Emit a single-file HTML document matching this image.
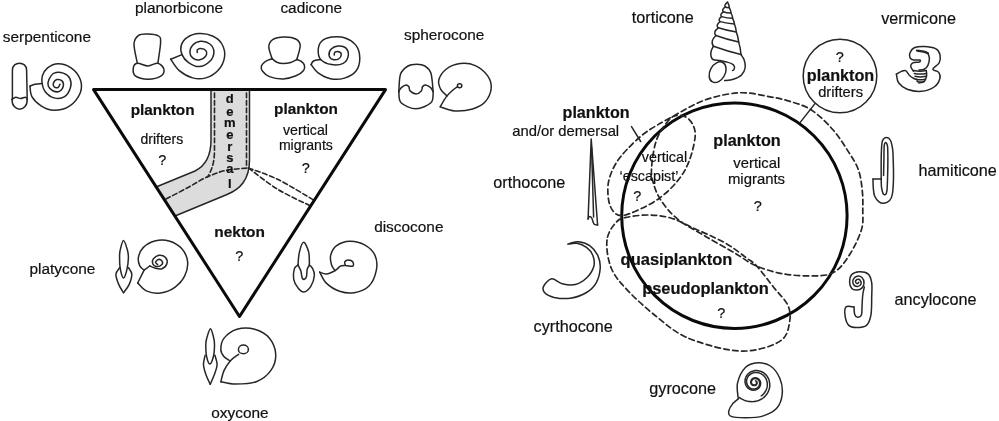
<!DOCTYPE html><html><head><meta charset="utf-8"><style>html,body{margin:0;padding:0;background:#fff;width:999px;height:421px;overflow:hidden}svg{display:block;will-change:transform}text{font-family:"Liberation Sans",sans-serif}</style></head><body>
<svg width="999" height="421" viewBox="0 0 999 421" font-family="Liberation Sans, sans-serif">
<path d="M211,91 L211,140 C211,156 205,166 195,171 L155.5,187.3 L175,216 L227,194.5 C240,189 249.5,180 249.5,160 L249.5,91Z" fill="#dcdcdc" stroke="none" stroke-width="0" stroke-linejoin="round" stroke-linecap="round"/>
<path d="M211,91 L211,140 C211,156 205,166 195,171 L155.5,187.3" fill="none" stroke="#262626" stroke-width="1.5" stroke-linejoin="round" stroke-linecap="round"/>
<path d="M249.5,91 L249.5,160 C249.5,180 240,189 227,194.5 L175,216" fill="none" stroke="#262626" stroke-width="1.5" stroke-linejoin="round" stroke-linecap="round"/>
<path d="M214.5,93 L214.5,150 C214.5,162 212,170 207.5,177" fill="none" stroke="#262626" stroke-width="1.6" stroke-dasharray="4.8,2.7" stroke-linejoin="round" stroke-linecap="round"/>
<path d="M246.5,93 L246.5,168" fill="none" stroke="#262626" stroke-width="1.6" stroke-dasharray="4.8,2.7" stroke-linejoin="round" stroke-linecap="round"/>
<path d="M166,199 C169.7,197.1 181.2,191.2 188,187.5 C194.8,183.8 200.7,179.8 207,177 C213.3,174.2 219.1,171.9 226,170.4 C232.9,168.9 244.8,168.4 248.5,168" fill="none" stroke="#262626" stroke-width="1.6" stroke-dasharray="4.8,2.7" stroke-linejoin="round" stroke-linecap="round"/>
<path d="M248.5,168 C253.4,169.9 267,174.1 278,179.5 C289,184.9 308.2,196.9 314.3,200.4" fill="none" stroke="#262626" stroke-width="1.6" stroke-dasharray="4.8,2.7" stroke-linejoin="round" stroke-linecap="round"/>
<path d="M248.5,168 C253.4,171.6 267.6,183.2 278,189.5 C288.4,195.8 305.2,203.2 310.7,206" fill="none" stroke="#262626" stroke-width="1.6" stroke-dasharray="4.8,2.7" stroke-linejoin="round" stroke-linecap="round"/>
<path d="M93.6,89.6 L385.5,89.6 L239.5,316.5Z" fill="none" stroke="#0a0a0a" stroke-width="3.0" stroke-linejoin="round" stroke-linecap="round"/>
<path d="M12.4,99 L12.4,70 C12.4,61 26.6,61 26.6,70 L27.2,99 C27.8,112.5 11.6,112.5 12,99Z" fill="none" stroke="#262626" stroke-width="1.5" stroke-linejoin="round" stroke-linecap="round"/>
<path d="M12,99.3 C12.6,99 14.4,97.3 15.8,97.2 C17.2,97.1 19,98.6 20.6,98.6 C22.2,98.6 24.2,97.1 25.3,97.2 C26.4,97.3 27,99 27.3,99.3" fill="none" stroke="#262626" stroke-width="1.5" stroke-linejoin="round" stroke-linecap="round"/>
<path d="M30,86.1 C30.3,87.8 30,93.3 31.9,96.6 C33.8,99.9 37.4,103.5 41.1,105.8 C44.8,108.1 49.3,110.3 54.1,110.3 C58.9,110.3 65.4,108.7 69.8,105.8 C74.2,102.9 78.5,97.1 80.3,92.7 C82,88.3 81.8,83.8 80.3,79.6 C78.8,75.4 74.8,70.4 71.1,67.8 C67.4,65.2 62,63.7 58.1,63.7 C54.2,63.7 50.2,65.8 47.6,67.8 C45,69.8 43.3,73.1 42.4,75.7 C41.5,78.3 41.7,80.9 42.1,83.5 C42.5,86.1 43,89 45,91.4 C47,93.8 50.8,97 54.1,97.9 C57.4,98.8 61.9,98.3 64.6,96.6 C67.3,94.9 69.6,90.5 70.5,87.5 C71.4,84.5 71,80.7 69.8,78.3 C68.6,75.9 65.9,74 63.3,73.1 C60.7,72.2 56.5,72 54.1,73.1 C51.7,74.2 49.9,77.4 48.9,79.6 C47.9,81.8 47.6,84.2 48.3,86.1 C48.9,87.9 50.9,89.8 52.8,90.7 C54.6,91.6 57.6,92.2 59.4,91.4 C61.1,90.6 62.9,87.8 63.3,86.1 C63.7,84.3 63.1,82 62,80.9 C60.9,79.8 58.2,79.3 56.8,79.6 C55.4,79.9 54,81.7 53.5,82.9 C53,84.1 53.3,86 54.1,86.8 C54.9,87.6 57.1,87.9 58.1,87.5 C59.1,87.1 59.7,84.8 60,84.2" fill="none" stroke="#262626" stroke-width="1.5" stroke-linejoin="round" stroke-linecap="round"/>
<path d="M30,86.1 C30.8,85.8 33,84.7 35,84.3 C37,83.9 40.9,83.6 42.1,83.5" fill="none" stroke="#262626" stroke-width="1.5" stroke-linejoin="round" stroke-linecap="round"/>
<path d="M137.3,63.2 C136.8,60 133.8,48.6 134,44 C134.2,39.4 136.3,37 138.6,35.3 C140.9,33.6 144.7,33.9 148,34 C151.3,34.1 156.5,34.6 158.6,36 C160.7,37.4 160.7,38.1 160.6,42.6 C160.5,47.1 158.3,59.8 157.9,63.2" fill="none" stroke="#262626" stroke-width="1.5" stroke-linejoin="round" stroke-linecap="round"/>
<path d="M137.3,63.2 C134.9,63.5 133.6,65.8 133.3,67.9 C133,70 132.9,74 135.3,75.9 C137.8,77.8 143.7,79.2 148,79.2 C152.3,79.2 158.5,77.6 161.2,75.9 C163.8,74.2 164.4,71.3 163.9,69.2 C163.4,67.1 160.6,63.8 157.9,63.2 C155.2,62.7 151.4,65.9 148,65.9 C144.6,65.9 139.8,62.9 137.3,63.2Z" fill="none" stroke="#262626" stroke-width="1.5" stroke-linejoin="round" stroke-linecap="round"/>
<path d="M170.7,59.2 C172.1,61.1 175.7,67.5 179.3,70.6 C183,73.7 188.2,76.7 192.6,77.9 C197,79.1 201.7,79.1 205.9,77.9 C210.1,76.7 214.8,74 217.9,70.6 C221,67.2 223.8,61.7 224.5,57.3 C225.2,52.9 223.9,47.5 221.9,44 C219.9,40.5 216.3,37.7 212.5,36 C208.7,34.3 203.4,33.4 199.2,33.6 C195,33.8 190.3,35.3 187.3,37.3 C184.3,39.2 182.2,42.4 181.3,45.3 C180.4,48.2 180.8,51.7 182,54.6 C183.2,57.5 185.7,60.6 188.6,62.6 C191.5,64.6 195.6,66.8 199.2,66.6 C202.8,66.4 207.4,63.7 209.9,61.2 C212.4,58.8 213.9,54.8 213.9,51.9 C213.9,49 212.1,45.8 209.9,44 C207.7,42.2 203.5,41.1 200.6,41.3 C197.7,41.5 194.4,43.4 192.6,45.3 C190.8,47.2 189.9,50.5 189.9,52.6 C189.9,54.7 191.1,56.7 192.6,57.9 C194.1,59.1 197,60.2 199.2,59.9 C201.4,59.6 204.8,57.4 205.9,55.9 C207,54.4 206.8,51.8 205.9,50.6 C205,49.4 202,48.7 200.6,48.6 C199.2,48.5 197.9,49.2 197.3,49.9 C196.8,50.6 197.3,52.1 197.3,52.6" fill="none" stroke="#262626" stroke-width="1.5" stroke-linejoin="round" stroke-linecap="round"/>
<path d="M170.7,59.2 L182,54.6" fill="none" stroke="#262626" stroke-width="1.5" stroke-linejoin="round" stroke-linecap="round"/>
<path d="M272.1,58.7 C271.6,56.7 268.7,49.9 268.8,46.7 C268.9,43.5 270.1,41.2 272.7,39.6 C275.3,38 280.4,37.2 284.2,37.1 C288,37 293,37.6 295.7,39 C298.4,40.4 300,42 300.2,45.4 C300.4,48.8 297.4,57.1 296.8,59.5" fill="none" stroke="#262626" stroke-width="1.5" stroke-linejoin="round" stroke-linecap="round"/>
<path d="M272.1,58.7 C271,59.2 267.4,60.2 265.6,61.4 C263.8,62.6 261.9,64.3 261.4,66 C260.9,67.7 261.3,69.5 262.6,71.3 C263.9,73.1 266,75.3 269.4,76.6 C272.8,77.9 278.7,79 283.1,78.9 C287.5,78.8 292.6,77.2 296,75.8 C299.4,74.4 302.2,72.3 303.6,70.5 C305,68.7 304.8,66.7 304.4,65.2 C304,63.7 302.6,62.4 301.3,61.4 C300,60.4 297.6,59.8 296.8,59.5" fill="none" stroke="#262626" stroke-width="1.5" stroke-linejoin="round" stroke-linecap="round"/>
<path d="M272.1,58.7 C272.9,59.3 275.1,61.4 276.9,62.2 C278.7,63 280.8,63.5 283.1,63.5 C285.4,63.5 288.4,63.2 290.7,62.5 C293,61.8 295.8,60 296.8,59.5" fill="none" stroke="#262626" stroke-width="1.5" stroke-linejoin="round" stroke-linecap="round"/>
<path d="M311.1,64.6 C312.2,65.9 314.3,69.9 317.5,72.3 C320.7,74.7 325.9,77.7 330.4,78.7 C334.9,79.7 340.2,79.4 344.5,78.1 C348.8,76.8 353.4,74.3 356,71 C358.6,67.7 359.8,62.5 359.8,58.2 C359.8,53.9 358.6,48.8 356,45.4 C353.4,42 348.6,39.1 344.5,37.7 C340.4,36.3 335.5,36.5 331.6,37.1 C327.8,37.7 323.6,39.3 321.4,41.5 C319.2,43.7 318.3,47.5 318.2,50.5 C318.1,53.5 318.5,57.1 320.7,59.5 C322.9,61.9 327.9,64 331.6,64.6 C335.4,65.2 340.4,64.8 343.2,63.3 C346,61.8 347.9,58.2 348.3,55.6 C348.7,53 347.4,49.5 345.7,47.9 C344,46.3 340.4,45.8 338,46 C335.6,46.2 332.5,47.6 331,49.2 C329.5,50.8 328.8,53.9 329.1,55.6 C329.4,57.3 331.3,59 332.9,59.5 C334.5,60 337.3,59.6 338.7,58.8 C340.1,57.9 341.3,55.6 341.3,54.4 C341.3,53.2 339.8,52.1 338.7,51.8 C337.6,51.5 335.6,51.9 334.8,52.4 C334.1,52.9 334.3,54.6 334.2,55" fill="none" stroke="#262626" stroke-width="1.5" stroke-linejoin="round" stroke-linecap="round"/>
<path d="M311.1,64.6 C311.5,64 311.9,61.9 313.5,61 C315.1,60.1 319.5,59.8 320.7,59.5" fill="none" stroke="#262626" stroke-width="1.5" stroke-linejoin="round" stroke-linecap="round"/>
<path d="M398.8,92.1 C399.1,89.1 399,78.6 400.5,74.3 C402,70 405.3,67.7 408,66 C410.7,64.3 413.8,64.2 416.6,64.2 C419.4,64.2 422.6,64.5 425,66 C427.4,67.5 429.5,68.8 430.9,73.1 C432.3,77.4 432.8,88.9 433.2,92.1" fill="none" stroke="#262626" stroke-width="1.5" stroke-linejoin="round" stroke-linecap="round"/>
<path d="M398.8,92.1 C399.2,93.9 398.2,100 401.1,102.8 C404,105.6 411,108.8 416,108.8 C421,108.8 428,105.4 430.9,102.8 C433.8,100.2 432.8,94.9 433.2,93.3" fill="none" stroke="#262626" stroke-width="1.5" stroke-linejoin="round" stroke-linecap="round"/>
<path d="M398.8,91.5 C399.2,90.9 399.9,89 401.1,87.9 C402.3,86.8 404.6,85.2 405.9,85 C407.2,84.8 408.2,85.8 408.9,86.8 C409.6,87.8 408.9,89.7 410.1,90.9 C411.3,92.1 414.1,93.9 416,93.9 C417.9,93.9 420.2,92.1 421.3,90.9 C422.4,89.7 421.8,87.8 422.5,86.8 C423.2,85.8 424.1,84.8 425.5,85 C426.9,85.2 429.6,86.7 430.9,87.9 C432.2,89.1 432.8,91.4 433.2,92.1" fill="none" stroke="#262626" stroke-width="1.5" stroke-linejoin="round" stroke-linecap="round"/>
<path d="M440.2,106.9 C442.6,107.6 449.3,110.7 454.7,111 C460.1,111.3 467.6,110.5 472.6,109 C477.7,107.5 481.9,105.5 485,102.1 C488.1,98.6 490.8,92.7 491.2,88.3 C491.6,83.9 490.3,79.7 487.7,75.9 C485.1,72.1 479.9,67.7 475.3,65.6 C470.7,63.5 465,62.9 460.2,63.5 C455.4,64.1 450,66.2 446.4,69 C442.8,71.8 439.7,76.5 438.8,80 C437.9,83.5 439.5,87 440.9,89.7 C442.3,92.4 446.1,94.9 447.1,95.9" fill="none" stroke="#262626" stroke-width="1.5" stroke-linejoin="round" stroke-linecap="round"/>
<path d="M440.2,106.9 C441.2,105.2 444.2,99.5 446.4,96.6 C448.6,93.7 451.4,91.4 453.3,89.7 C455.2,88 456.9,87.1 457.6,86.6" fill="none" stroke="#262626" stroke-width="1.5" stroke-linejoin="round" stroke-linecap="round"/>
<ellipse cx="459.6" cy="85.8" rx="2.2" ry="2" fill="none" stroke="#262626" stroke-width="1.5"/>
<path d="M123.5,240.4 C122.3,240.4 120.9,247.1 120.2,250 C119.5,252.9 119.5,254.8 119.6,258.1 C119.6,261.4 119.8,266.7 120.5,270 C121.2,273.3 122.5,278 123.5,278 C124.5,278 126,273.3 126.8,270 C127.6,266.7 128.3,261.4 128.4,258.1 C128.5,254.8 128.2,252.9 127.4,250 C126.6,247.1 124.7,240.4 123.5,240.4Z" fill="none" stroke="#262626" stroke-width="1.5" stroke-linejoin="round" stroke-linecap="round"/>
<path d="M119.6,267.7 C119,268.8 116,271.5 115.9,274.3 C115.8,277.1 117.5,281.5 118.8,284.6 C120.1,287.7 122.7,291.4 123.5,292.7" fill="none" stroke="#262626" stroke-width="1.5" stroke-linejoin="round" stroke-linecap="round"/>
<path d="M128.4,267.7 C129,268.8 131.7,271.5 131.8,274.3 C131.9,277.1 130.5,281.5 129.1,284.6 C127.7,287.7 124.4,291.4 123.5,292.7" fill="none" stroke="#262626" stroke-width="1.5" stroke-linejoin="round" stroke-linecap="round"/>
<path d="M144.1,270.2 C143.4,269.5 140.8,268 139.8,265.9 C138.9,263.8 137.8,260.5 138.4,257.4 C139,254.3 140.7,250.1 143.4,247.4 C146.1,244.7 150.5,242.1 154.8,241 C159.1,239.9 164.5,239.7 169,241 C173.5,242.3 178.8,245.4 181.9,248.8 C185,252.2 187.1,257.2 187.6,261.7 C188.1,266.2 186.8,271.6 184.7,275.9 C182.6,280.2 178.8,284.4 174.8,287.3 C170.8,290.2 165.2,292.4 160.5,293 C155.8,293.6 150.1,292.6 146.3,290.9 C142.5,289.2 139.1,284.3 137.7,283" fill="none" stroke="#262626" stroke-width="1.5" stroke-linejoin="round" stroke-linecap="round"/>
<path d="M137.7,283 L144.1,270.2 L149.8,266" fill="none" stroke="#262626" stroke-width="1.5" stroke-linejoin="round" stroke-linecap="round"/>
<path d="M149.8,265.9 C150.6,266.3 152.8,267.6 154.8,268.1 C156.8,268.6 159.9,269.5 161.9,268.8 C163.9,268.1 166.3,265.7 166.9,263.8 C167.5,261.9 166.8,258.8 165.5,257.4 C164.2,256 161.1,255 159.1,255.2 C157.1,255.4 154.5,257.4 153.4,258.8 C152.3,260.2 152.1,262.5 152.7,263.8 C153.3,265.1 155.4,266.5 156.9,266.6 C158.4,266.7 161.1,265.4 161.9,264.5 C162.7,263.6 162.5,261.7 161.9,260.9 C161.3,260.1 159.5,259.2 158.4,259.5 C157.3,259.8 155.6,261.6 155.5,262.4 C155.4,263.2 157.3,264.1 157.7,264.5" fill="none" stroke="#262626" stroke-width="1.5" stroke-linejoin="round" stroke-linecap="round"/>
<path d="M298,265.1 C298.2,263 298.4,256 299.4,252.2 C300.3,248.4 302.1,242.3 303.7,242.3 C305.2,242.3 307.8,248.4 308.7,252.2 C309.6,256 309.3,263 309.4,265.1" fill="none" stroke="#262626" stroke-width="1.5" stroke-linejoin="round" stroke-linecap="round"/>
<path d="M298,265.1 C298.5,266.1 300.1,268.7 300.8,270.8 C301.5,272.9 301.6,276.5 302.2,277.9 C302.8,279.3 303.7,279.5 304.4,279.3 C305.1,279.1 306,278.2 306.5,276.5 C307,274.8 306.7,271.2 307.2,269.3 C307.7,267.4 309,265.8 309.4,265.1" fill="none" stroke="#262626" stroke-width="1.5" stroke-linejoin="round" stroke-linecap="round"/>
<path d="M298,265.1 C297.4,265.7 295.1,266.2 294.4,268.6 C293.7,271 293.1,276.1 293.7,279.3 C294.3,282.5 296.3,285.8 298,287.9 C299.7,290 301.6,292.4 303.7,292.1 C305.8,291.9 309,289.2 310.8,286.4 C312.6,283.5 314.2,278.1 314.4,275 C314.6,271.9 313,269.5 312.2,267.9 C311.4,266.2 309.9,265.6 309.4,265.1" fill="none" stroke="#262626" stroke-width="1.5" stroke-linejoin="round" stroke-linecap="round"/>
<path d="M319.7,272.1 C320.8,273.9 323,279.9 326.3,283.1 C329.6,286.3 334.9,289.6 339.6,291.2 C344.3,292.8 349.4,293.5 354.3,292.7 C359.2,291.9 365.3,289.9 369,286.1 C372.7,282.3 375.4,275.1 376.4,269.9 C377.4,264.7 376.9,259.3 374.9,255.1 C372.9,250.9 368.8,247.1 364.6,244.8 C360.4,242.5 354.6,241.1 349.9,241.2 C345.2,241.3 339.8,243.3 336.6,245.6 C333.4,247.9 331.6,251.9 330.7,255.1 C329.8,258.3 330.8,262.1 331.5,264.7 C332.2,267.3 334.5,269.6 335.1,270.6" fill="none" stroke="#262626" stroke-width="1.5" stroke-linejoin="round" stroke-linecap="round"/>
<path d="M319.7,272.1 C320.8,272.4 323.7,274.2 326.3,274 C328.9,273.8 332.8,271.9 335.1,270.6 C337.4,269.3 338.6,267.1 340.3,266.2 C342,265.3 343.4,265.5 345.5,265.5 C347.6,265.5 351.6,266.8 352.8,266.2 C354,265.6 353.5,262.9 352.8,261.8 C352.1,260.8 349.8,259.9 348.4,259.9 C347,259.9 345.2,260.9 344.7,261.8 C344.2,262.7 345.4,264.9 345.5,265.5" fill="none" stroke="#262626" stroke-width="1.5" stroke-linejoin="round" stroke-linecap="round"/>
<path d="M210.5,328.7 C209.3,328.7 207.6,335.4 206.8,338 C206,340.6 205.9,341.4 205.8,344.4 C205.8,347.4 205.8,352.7 206.5,356 C207.2,359.3 208.6,364 209.8,364 C211,364 212.7,359.3 213.5,356 C214.3,352.7 214.5,347.4 214.5,344.4 C214.5,341.4 214.4,340.6 213.7,338 C213,335.4 211.7,328.7 210.5,328.7Z" fill="none" stroke="#262626" stroke-width="1.5" stroke-linejoin="round" stroke-linecap="round"/>
<path d="M205.1,355.3 C204.8,356.9 203.4,361.7 203.5,364.8 C203.6,367.9 204.7,370.9 205.8,374.2 C206.9,377.4 209.5,382.6 210.2,384.3" fill="none" stroke="#262626" stroke-width="1.5" stroke-linejoin="round" stroke-linecap="round"/>
<path d="M214.9,355.3 C215.3,356.9 217.2,361.7 217.1,364.8 C217,367.9 215.7,370.9 214.5,374.2 C213.3,377.4 210.9,382.6 210.2,384.3" fill="none" stroke="#262626" stroke-width="1.5" stroke-linejoin="round" stroke-linecap="round"/>
<path d="M220.8,381.7 C223.2,382.1 229.5,384.1 235.4,384.1 C241.3,384.1 250.4,384 256.3,381.7 C262.2,379.4 267.7,375 270.9,370.4 C274.1,365.8 276,359.7 275.7,354.3 C275.4,348.9 272.8,342.3 269.3,338.1 C265.8,333.9 260.1,330.8 254.7,329.3 C249.3,327.8 242.1,327.8 237,329.3 C231.9,330.8 226.8,334.8 224.1,338.1 C221.4,341.5 220.8,346.3 220.8,349.4 C220.8,352.5 222.6,354.8 224.1,356.7 C225.6,358.6 228.8,360 229.7,360.7" fill="none" stroke="#262626" stroke-width="1.5" stroke-linejoin="round" stroke-linecap="round"/>
<path d="M220.8,381.7 C221.4,379.8 222.5,373.9 224.1,370.4 C225.7,366.9 228.1,363.4 230.5,360.7 C232.9,358 237.2,355.4 238.6,354.3" fill="none" stroke="#262626" stroke-width="1.5" stroke-linejoin="round" stroke-linecap="round"/>
<ellipse cx="243.4" cy="349.4" rx="5" ry="4.3" fill="none" stroke="#262626" stroke-width="1.5"/>
<path d="M588.1,219 L591.2,139 L597.6,225" fill="none" stroke="#262626" stroke-width="1.5" stroke-linejoin="round" stroke-linecap="round"/>
<path d="M588.1,219 C588.3,218.6 588.9,216.6 589.5,216.5 C590.1,216.4 591,216.9 591.8,218.2 C592.5,219.4 593,222.9 594,224 C595,225.1 597,224.8 597.6,225" fill="none" stroke="#262626" stroke-width="1.5" stroke-linejoin="round" stroke-linecap="round"/>
<path d="M591.6,148 L593.6,217" fill="none" stroke="#262626" stroke-width="1.5" stroke-linejoin="round" stroke-linecap="round"/>
<path d="M567.9,244.1 C568.2,243.8 574.8,241.4 578.4,241.7 C582,242 586.5,243.4 589.7,245.7 C592.9,248 596,251.6 597.8,255.4 C599.5,259.2 600.5,263.7 600.2,268.3 C599.9,272.9 598.5,278.8 596.2,282.8 C593.9,286.8 590.8,289.9 586.5,292.5 C582.2,295.1 575.7,297.4 570.3,298.2 C564.9,299 558.5,298.3 554.2,297.4 C549.9,296.4 546.2,294.4 544.5,292.5 C542.8,290.6 542.5,288.4 543.7,286.1 C544.9,283.8 548.6,279.2 551.7,278.8 C554.8,278.4 558.3,282.8 562.2,283.7 C566.1,284.6 571.2,285.4 575.2,284.5 C579.2,283.6 583.4,281 586.5,278 C589.6,275 592.6,270.5 593.7,266.7 C594.8,262.9 594.1,258.6 592.9,255.4 C591.7,252.2 589.2,249.3 586.5,247.3 C583.8,245.3 579.9,243.8 576.8,243.3 C573.7,242.8 567.6,244.4 567.9,244.1Z" fill="none" stroke="#262626" stroke-width="1.5" stroke-linejoin="round" stroke-linecap="round"/>
<path d="M727.5,2.2 Q729.1,4.9 729.3,7.6 Q730.9,10.3 731,13 Q732.5,15.7 732.6,18.3 Q734.2,21.1 734.4,24 Q736,28 736.3,32 Q738.2,37 738.7,42.1 Q740.6,48.3 741,54.5" fill="none" stroke="#262626" stroke-width="1.5" stroke-linejoin="round" stroke-linecap="round"/>
<path d="M727.5,2.2 Q723.8,5 725.3,6.8 Q721.4,9.8 723.3,11.8 Q719.4,14.7 721.6,16.6 Q717.5,19.6 720.1,21.6 Q715.3,25.2 718.3,27.8 Q712.6,32.1 715.9,35.5 Q709.8,41.4 713.4,46.2" fill="none" stroke="#262626" stroke-width="1.5" stroke-linejoin="round" stroke-linecap="round"/>
<path d="M725.3,6.8 Q727.3,8 729.3,7.6" fill="none" stroke="#262626" stroke-width="1.5" stroke-linejoin="round" stroke-linecap="round"/>
<path d="M723.3,11.8 Q727.1,13.2 731,13" fill="none" stroke="#262626" stroke-width="1.5" stroke-linejoin="round" stroke-linecap="round"/>
<path d="M721.6,16.6 Q727.1,18.3 732.6,18.3" fill="none" stroke="#262626" stroke-width="1.5" stroke-linejoin="round" stroke-linecap="round"/>
<path d="M720.1,21.6 Q727.2,23.6 734.4,24" fill="none" stroke="#262626" stroke-width="1.5" stroke-linejoin="round" stroke-linecap="round"/>
<path d="M718.3,27.8 Q727.3,30.7 736.3,32" fill="none" stroke="#262626" stroke-width="1.5" stroke-linejoin="round" stroke-linecap="round"/>
<path d="M715.9,35.5 Q727.3,39.6 738.7,42.1" fill="none" stroke="#262626" stroke-width="1.5" stroke-linejoin="round" stroke-linecap="round"/>
<path d="M713.4,46.2 Q727.2,51.1 741,54.5" fill="none" stroke="#262626" stroke-width="1.5" stroke-linejoin="round" stroke-linecap="round"/>
<path d="M713.4,46.2 C713,47 711.6,49.4 711.2,51 C710.8,52.6 710.7,54.6 711,56 C711.3,57.4 711.5,58.7 713,59.5 C714.5,60.3 717.8,60.2 720,60.6 C722.2,61 724.5,61.5 726.5,62 C728.5,62.5 730.7,63 732,63.8 C733.3,64.5 734.1,65.5 734.4,66.5 C734.7,67.5 734.3,68.8 734,69.5 C733.7,70.2 732.8,70.3 732.5,70.5" fill="none" stroke="#262626" stroke-width="1.5" stroke-linejoin="round" stroke-linecap="round"/>
<path d="M741,54.5 C741.5,55.4 743.5,57.8 744.2,60 C744.9,62.2 745.7,65 745.2,67.5 C744.8,70 743.5,73 741.5,75 C739.5,77 736.1,78.3 733.3,79.2 C730.5,80.1 726.1,80.4 724.7,80.6" fill="none" stroke="#262626" stroke-width="1.5" stroke-linejoin="round" stroke-linecap="round"/>
<ellipse cx="717.6" cy="72.2" rx="7.6" ry="11" transform="rotate(28 717.6 72.2)" fill="#fff" stroke="#262626" stroke-width="1.5"/>
<path d="M896.4,74.2 C896.8,75.6 896.8,80.3 898.6,82.8 C900.4,85.3 903.3,87.8 907.1,89.2 C910.9,90.6 916.9,91.7 921.4,91.3 C925.9,90.9 931.1,89.1 934.2,87 C937.3,84.9 939.2,81 939.9,78.5 C940.6,76 939.7,73.6 938.5,72.1 C937.3,70.5 932.7,70.8 932.8,69.2 C932.9,67.7 938,65.3 939.2,62.8 C940.4,60.3 940.5,56.7 939.9,54.3 C939.3,51.9 938.2,49.9 935.6,48.6 C933,47.3 927.8,46.5 924.2,46.4 C920.6,46.3 916.6,46.7 914.2,47.8 C911.8,48.9 910.7,51.1 910,52.8 C909.3,54.5 909.4,56.6 910,57.8 C910.6,59 911.9,59.6 913.5,60 C915.1,60.4 918.9,59.6 919.9,60 C920.9,60.4 920.4,61.6 919.2,62.1 C918,62.6 914.2,62.1 912.8,62.8 C911.4,63.5 910.6,65 910.7,66.4 C910.8,67.8 913,70.6 913.5,71.4" fill="none" stroke="#262626" stroke-width="1.5" stroke-linejoin="round" stroke-linecap="round"/>
<path d="M896.4,74.2 C897.2,73.7 899.8,72 901.4,71.4 C903,70.8 904.4,69.9 905.7,70.6 C907.1,71.3 908.1,74.2 909.5,75.5 C910.9,76.8 912.7,77.8 914,78.5 C915.3,79.2 916.9,79.8 917.5,80" fill="none" stroke="#262626" stroke-width="1.5" stroke-linejoin="round" stroke-linecap="round"/>
<path d="M917,50.6 C922,51 926,52 928,53.3" fill="none" stroke="#262626" stroke-width="2.2" stroke-linejoin="round" stroke-linecap="round"/>
<path d="M928,53.3 C928.2,54.2 929.4,56.5 929.4,58.5 C929.4,60.5 928.7,63.8 927.8,65.6 C926.9,67.4 925.7,68.5 924.2,69.2 C922.7,69.9 919.9,69.9 919,70" fill="none" stroke="#262626" stroke-width="1.5" stroke-linejoin="round" stroke-linecap="round"/>
<path d="M913.6,70.6 Q920,71.8 926.3,70.6" fill="none" stroke="#262626" stroke-width="1.5" stroke-linejoin="round" stroke-linecap="round"/>
<path d="M914.3,73.5 Q920.3,74.7 926.3,73.5" fill="none" stroke="#262626" stroke-width="1.5" stroke-linejoin="round" stroke-linecap="round"/>
<path d="M915,76.3 Q920.3,77.5 925.6,76.3" fill="none" stroke="#262626" stroke-width="1.5" stroke-linejoin="round" stroke-linecap="round"/>
<path d="M916.4,79.2 Q920.7,80.4 925,79.2" fill="none" stroke="#262626" stroke-width="1.5" stroke-linejoin="round" stroke-linecap="round"/>
<path d="M917.1,81.5 Q920.7,82.7 924.2,81.5" fill="none" stroke="#262626" stroke-width="1.5" stroke-linejoin="round" stroke-linecap="round"/>
<path d="M926.3,70.6 C926.3,71.5 927,74.2 926.6,76 C926.2,77.8 925.5,80.3 924.2,81.5 C922.9,82.7 919.9,82.8 919,83" fill="none" stroke="#262626" stroke-width="1.5" stroke-linejoin="round" stroke-linecap="round"/>
<path d="M873,179 C874.4,179 879.8,179 881.2,179" fill="none" stroke="#262626" stroke-width="1.5" stroke-linejoin="round" stroke-linecap="round"/>
<path d="M873,179 C873,180.5 873,185.2 873.3,188 C873.6,190.8 873.6,193.7 874.6,196 C875.6,198.3 877.4,200.6 879,201.8 C880.6,203 882.2,203.4 884,203.2 C885.8,203 888.2,202 889.6,200.5 C891,199 891.8,197.8 892.4,194 C893,190.2 893.4,183.2 893.5,177.5 C893.6,171.8 893.4,164.8 893.2,160 C893.1,155.2 893.1,152.2 892.6,149 C892.1,145.8 891.5,142.4 890.5,140.5 C889.5,138.6 888.1,137.8 886.9,137.6 C885.7,137.3 884.3,138 883.5,139 C882.7,140 882.3,140.2 881.9,143.5 C881.5,146.8 881.3,152.6 881.2,158.5 C881.1,164.4 881.2,175.6 881.2,179" fill="none" stroke="#262626" stroke-width="1.5" stroke-linejoin="round" stroke-linecap="round"/>
<path d="M881.2,179 C881.3,180.6 881.2,185.9 881.7,188.5 C882.2,191.1 883.1,194.2 884,194.6 C884.9,195 886.3,195.2 886.9,190.8 C887.5,186.4 887.6,174.5 887.8,168 C887.9,161.5 887.9,155.8 887.8,152 C887.7,148.2 887.8,147.1 887.4,145.5 C887,143.9 886,142.3 885.5,142.4 C885,142.5 884.5,143.1 884.2,146 C883.9,148.9 884,155.1 883.9,160 C883.8,164.9 883.6,173 883.6,175.6" fill="none" stroke="#262626" stroke-width="1.5" stroke-linejoin="round" stroke-linecap="round"/>
<path d="M854,307 C852.6,307 847.4,305.4 845.9,307 C844.4,308.6 844.7,313.5 845.2,316.6 C845.7,319.7 847,323.6 848.8,325.4 C850.6,327.2 853.2,327.6 856.2,327.6 C859.2,327.6 864,327.5 866.5,325.4 C869,323.3 870,319.8 870.9,315.1 C871.8,310.5 871.6,302.9 871.7,297.5 C871.8,292.1 872.3,286.6 871.7,282.7 C871.1,278.8 870.1,275.7 868,273.9 C865.9,272.1 861.8,271.6 859.1,271.7 C856.4,271.8 853.4,272.9 851.8,274.6 C850.2,276.3 849.6,279.7 849.6,282 C849.6,284.3 850.6,287.2 851.8,288.6 C853,290 855.2,290.2 856.9,290.1 C858.6,290 860.9,289.1 862.1,287.9 C863.3,286.7 864,284.7 864,283 C864,281.3 863.2,278.6 862,277.5 C860.8,276.4 858.5,275.9 857,276.2 C855.5,276.5 853.8,278.1 853.2,279.5 C852.6,280.9 852.8,283.3 853.5,284.5 C854.2,285.7 856.2,286.6 857.5,286.5 C858.8,286.4 860.6,285.1 861,284 C861.4,282.9 860.7,280.8 860,280 C859.3,279.2 857.8,279.2 857,279.5 C856.2,279.8 855.4,281.3 855.5,282 C855.6,282.7 857,283.5 857.5,283.5 C858,283.5 858.6,282.4 858.8,282.2" fill="none" stroke="#262626" stroke-width="1.5" stroke-linejoin="round" stroke-linecap="round"/>
<path d="M854,307 C854.1,308.2 854.1,312.7 854.7,314.4 C855.3,316.1 856.6,317.2 857.7,317.3 C858.8,317.4 860.7,317.2 861.4,315.1 C862.1,313 861.9,308.2 862.1,304.8 C862.3,301.4 862.4,297.4 862.8,294.5 C863.2,291.6 864,288.3 864.3,287.1" fill="none" stroke="#262626" stroke-width="1.5" stroke-linejoin="round" stroke-linecap="round"/>
<path d="M738.3,398.9 C738.2,396.3 736.3,388.4 737.5,383.2 C738.7,378 742,370.9 745.4,367.5 C748.8,364.1 753.7,363.1 757.9,362.8 C762.1,362.6 766.8,363.4 770.5,366 C774.2,368.6 777.9,373.8 779.9,378.5 C781.9,383.2 782.7,389.2 782.2,394.2 C781.7,399.2 780,404.6 776.7,408.3 C773.4,412 767.8,414.5 762.6,416.1 C757.4,417.7 750.8,417.7 745.4,417.7 C740,417.7 733.2,417.3 730.5,416.1 C727.8,414.9 728.5,412.7 728.9,410.6 C729.3,408.5 731.2,405.6 732.8,403.6 C734.4,401.7 737.4,399.7 738.3,398.9" fill="none" stroke="#262626" stroke-width="1.5" stroke-linejoin="round" stroke-linecap="round"/>
<path d="M739.6,397.6 L741,398.6 L742.5,399.4 L744,400.1 L745.6,400.7 L747.1,401.1 L748.7,401.5 L750.3,401.6 L751.9,401.7 L753.4,401.6 L755,401.4 L756.5,401.1 L757.9,400.7 L759.3,400.2 L760.6,399.5 L761.9,398.8 L763.1,398 L764.1,397.1 L765.2,396.1 L766.1,395.1 L766.9,394 L767.6,392.8 L768.2,391.6 L768.7,390.4 L769.2,389.2 L769.5,387.9 L769.7,386.7 L769.8,385.4 L769.7,384.1 L769.6,382.9 L769.4,381.7 L769.2,380.6 L768.8,379.4 L768.3,378.3 L767.8,377.3 L767.2,376.4 L766.5,375.4 L765.7,374.6 L764.9,373.8 L764.1,373.2 L763.2,372.5 L762.2,372 L761.3,371.6 L760.3,371.2 L759.3,370.9 L758.3,370.7 L757.3,370.6 L756.3,370.5 L755.3,370.6 L754.4,370.7 L753.4,370.9 L752.5,371.2 L751.6,371.5 L750.8,371.9 L750,372.4 L749.3,372.9 L748.6,373.5 L747.9,374.1 L747.4,374.7 L746.8,375.4 L746.4,376.1 L746,376.9 L745.7,377.7 L745.4,378.4 L745.2,379.2 L745.1,380 L745,380.8 L745,381.6 L745.1,382.4 L745.2,383.1 L745.4,383.9 L745.6,384.6 L745.9,385.3 L746.3,385.9 L746.7,386.5 L747.1,387.1 L747.6,387.6 L748.1,388.1 L748.6,388.6 L749.2,388.9 L749.7,389.3 L750.3,389.6 L751,389.8 L751.6,390 L752.2,390.1 L752.9,390.2 L753.5,390.2 L754.1,390.2 L754.7,390.1 L755.3,390 L755.9,389.8 L756.4,389.6 L757,389.4 L757.5,389.1 L757.9,388.7 L758.4,388.4 L758.8,388 L759.2,387.6 L759.5,387.1 L759.8,386.7 L760,386.2 L760.2,385.7 L760.4,385.2 L760.5,384.7 L760.6,384.2 L760.6,383.7 L760.6,383.2 L760.6,382.7 L760.5,382.3 L760.4,381.8 L760.3,381.4 L760.1,380.9 L759.9,380.5 L759.6,380.1 L759.3,379.8 L759,379.4 L758.7,379.1 L758.4,378.8 L758,378.6 L757.7,378.4 L757.3,378.2 L756.9,378.1 L756.5,377.9 L756.1,377.9 L755.7,377.8 L755.3,377.8 L754.9,377.8 L754.5,377.9 L754.1,377.9 L753.8,378 L753.4,378.2 L753.1,378.3 L752.8,378.5 L752.5,378.7 L752.2,378.9 L751.9,379.2 L751.7,379.5 L751.5,379.7 L751.3,380 L751.2,380.3 L751,380.6 L750.9,380.9 L750.9,381.2 L750.8,381.6 L750.8,381.9 L750.8,382.2 L750.8,382.5 L750.8,382.8 L750.9,383.1 L751,383.4 L751.1,383.7 L751.3,383.9 L751.4,384.2 L751.6,384.4 L751.8,384.6 L752,384.8 L752.2,385 L752.4,385.1 L752.7,385.3 L752.9,385.4 L753.1,385.5 L753.4,385.5 L753.6,385.6 L753.9,385.6 L754.1,385.6 L754.4,385.6 L754.6,385.6 L754.9,385.6 L755.1,385.5 L755.3,385.4 L755.5,385.3 L755.7,385.2 L755.9,385.1 L756.1,384.9 L756.3,384.8 L756.4,384.6 L756.5,384.4 L756.7,384.2 L756.8,384.1 L756.8,383.9 L756.9,383.7 L757,383.5 L757,383.3 L757,383.1 L757,382.9 L757,382.7 L757,382.5 L756.9,382.3 L756.9,382.1 L756.8,381.9 L756.7,381.8 L756.6,381.6 L756.5,381.5 L756.4,381.3 L756.2,381.2 L756.1,381.1 L756,381 L755.8,380.9 L755.7,380.9 L755.5,380.8" fill="none" stroke="#262626" stroke-width="1.5" stroke-linejoin="round" stroke-linecap="round"/>
<path d="M761.3,395.8 L762.3,395.1 L763.1,394.3 L763.9,393.4 L764.7,392.5 L765.3,391.5 L765.9,390.6 L766.3,389.5 L766.7,388.5 L767,387.4 L767.2,386.4 L767.3,385.3 L767.3,384.3 L767.3,383.2 L767.1,382.2 L766.9,381.2 L766.6,380.3 L766.3,379.3 L765.8,378.4 L765.3,377.6 L764.8,376.8 L764.1,376.1 L763.5,375.4 L762.8,374.8 L762,374.3 L761.3,373.8 L760.5,373.4 L759.6,373.1 L758.8,372.8 L758,372.7 L757.1,372.5 L756.3,372.5 L755.5,372.5 L754.6,372.6 L753.8,372.7 L753.1,372.9 L752.3,373.2 L751.6,373.5 L750.9,373.9 L750.3,374.3 L749.7,374.8 L749.1,375.3 L748.6,375.8 L748.2,376.4 L747.8,377 L747.4,377.7 L747.2,378.3 L746.9,379 L746.7,379.6 L746.6,380.3 L746.6,381 L746.5,381.6 L746.6,382.3 L746.7,382.9 L746.8,383.5 L747,384.2 L747.3,384.7 L747.5,385.3 L747.9,385.8 L748.2,386.3 L748.6,386.8 L749,387.2 L749.5,387.5 L749.9,387.9 L750.4,388.2 L750.9,388.4 L751.5,388.6 L752,388.8 L752.5,388.9 L753,389 L753.6,389 L754.1,389 L754.6,388.9 L755.1,388.8 L755.6,388.7 L756.1,388.5 L756.5,388.3 L757,388.1 L757.4,387.8 L757.7,387.5 L758.1,387.2 L758.4,386.8 L758.7,386.5 L758.9,386.1 L759.1,385.7 L759.3,385.3 L759.4,384.9 L759.6,384.4 L759.6,384 L759.7,383.6 L759.7,383.2 L759.6,382.8 L759.6,382.4 L759.5,382 L759.4,381.6 L759.2,381.2 L759,380.9 L758.8,380.5 L758.6,380.2 L758.3,380 L758.1,379.7 L757.8,379.5 L757.5,379.3 L757.2,379.1 L756.9,378.9 L756.5,378.8 L756.2,378.7 L755.9,378.6 L755.5,378.6 L755.2,378.6 L754.9,378.6 L754.5,378.6 L754.2,378.7 L753.9,378.8 L753.6,378.9 L753.3,379 L753.1,379.2 L752.8,379.3 L752.6,379.5 L752.4,379.7 L752.2,380 L752,380.2 L751.8,380.4 L751.7,380.7 L751.6,380.9 L751.5,381.2 L751.5,381.5 L751.4,381.7 L751.4,382 L751.4,382.3 L751.4,382.5 L751.5,382.8 L751.5,383 L751.6,383.3 L751.7,383.5 L751.8,383.7 L751.9,383.9 L752.1,384.1 L752.2,384.3 L752.4,384.5 L752.6,384.6 L752.8,384.7 L753,384.8 L753.2,384.9 L753.4,385 L753.6,385.1 L753.8,385.1 L754,385.1 L754.2,385.2 L754.4,385.1 L754.6,385.1 L754.8,385.1 L755,385 L755.2,384.9 L755.4,384.9 L755.6,384.8 L755.7,384.6 L755.9,384.5 L756,384.4 L756.1,384.3 L756.2,384.1 L756.3,384 L756.4,383.8 L756.5,383.6 L756.5,383.5 L756.6,383.3 L756.6,383.1 L756.6,383 L756.6,382.8 L756.6,382.6 L756.6,382.5 L756.5,382.3 L756.5,382.2 L756.4,382 L756.3,381.9 L756.3,381.8" fill="none" stroke="#262626" stroke-width="1.5" stroke-linejoin="round" stroke-linecap="round"/>
<circle cx="734.4" cy="215.7" r="112.7" fill="none" stroke="#0a0a0a" stroke-width="3.0"/>
<circle cx="840" cy="76" r="36.8" fill="none" stroke="#262626" stroke-width="1.5"/>
<path d="M815,103.6 L800,122.6" fill="none" stroke="#262626" stroke-width="1.5" stroke-linejoin="round" stroke-linecap="round"/>
<path d="M631.5,126.6 L640.7,141.5" fill="none" stroke="#262626" stroke-width="1.5" stroke-linejoin="round" stroke-linecap="round"/>
<path d="M621,215.6 C617.2,215.6 615.1,213.7 613,211 C610.9,208.3 609.2,204.2 608.5,199.4 C607.8,194.6 607.4,187.7 608.5,182 C609.6,176.3 612,170.3 615,165 C618,159.7 621.5,155.3 626.5,150 C631.5,144.7 637.8,138.3 645,133 C652.2,127.7 660,123.5 670,118 C680,112.5 693.3,104.2 705,100 C716.7,95.8 729.2,93.3 740,92.8 C750.8,92.3 761.7,95.4 770,96.8 C778.3,98.2 783.1,99.2 790,101.4 C796.9,103.6 804.3,105.3 811.4,110 C818.5,114.7 826.7,122.7 832.7,129.5 C838.8,136.3 843.4,143.9 847.7,150.6 C852,157.3 856,163.1 858.4,169.8 C860.8,176.5 861.6,184.3 862.3,191 C863,197.7 862.9,203.6 862.8,210 C862.7,216.4 863.7,222.2 861.5,229.6 C859.3,237 854.2,247.4 849.7,254.5 C845.2,261.6 840.5,268.3 834.7,271.9 C828.9,275.5 823.5,275.6 814.8,275.9 C806.1,276.2 792.6,275.6 782.6,273.8 C772.6,272 762.6,268.6 754.8,265.2 C747,261.8 743.8,258.3 735.6,253.5 C727.4,248.7 715.2,242.1 705.6,236.4 C696,230.7 685.3,225.4 677.8,219.3 C670.3,213.2 664.8,206.2 660.7,200 C656.6,193.8 654.5,187.2 653,182 C651.5,176.8 651.2,175.2 651.5,169 C651.8,162.8 653.3,151.5 655,145 C656.7,138.5 658.5,134.7 661.5,130 C664.5,125.3 669.1,118.8 673,116.6 C676.9,114.4 681.7,115.2 685,116.6 C688.3,118 691.3,121.4 693,125 C694.7,128.6 695.7,131.9 695,138 C694.3,144.1 691.8,154.3 689,161.4 C686.2,168.5 683,174.2 678,180.4 C673,186.6 666,193.4 659,198.5 C652,203.6 642.3,208.2 636,211 C629.7,213.8 624.8,215.6 621,215.6Z" fill="none" stroke="#262626" stroke-width="1.7" stroke-dasharray="5.5,3.5" stroke-linejoin="round" stroke-linecap="round"/>
<path d="M607,240 C606.1,247.8 607.8,259.9 611.4,268.5 C615,277.1 620.9,283.2 628.5,291.3 C636.1,299.4 647.5,309.4 657,317 C666.5,324.6 673.7,331.4 685.5,336.9 C697.3,342.3 716.1,347.6 728,349.7 C739.9,351.8 747.7,351.4 756.7,349.7 C765.7,348 776.5,344.2 782,339.7 C787.5,335.2 788.5,328.3 789.5,322.6 C790.5,316.9 790.6,311.3 788,305.5 C785.4,299.7 779.2,294.2 774,287.7 C768.8,281.2 761.6,271.3 757,266.3 C752.4,261.3 751.6,261.7 746.3,257.8 C740.9,253.9 733.8,247.8 724.9,242.8 C716,237.8 701.7,231.9 692.8,227.8 C683.9,223.7 678.5,220.3 671.4,218.2 C664.3,216.1 657.1,215.2 650,215 C642.9,214.8 634.1,215.9 628.5,217 C622.9,218.1 620.2,218 616.6,221.8 C613,225.6 607.9,232.2 607,240Z" fill="none" stroke="#262626" stroke-width="1.7" stroke-dasharray="5.5,3.5" stroke-linejoin="round" stroke-linecap="round"/>
<text x="46.9" y="41.6" font-size="15.4" text-anchor="middle" fill="#111" stroke="#111" stroke-width="0.2">serpenticone</text>
<text x="179.1" y="12.9" font-size="15.4" text-anchor="middle" fill="#111" stroke="#111" stroke-width="0.2">planorbicone</text>
<text x="311.2" y="12.9" font-size="15.4" text-anchor="middle" fill="#111" stroke="#111" stroke-width="0.2">cadicone</text>
<text x="444.2" y="40.2" font-size="15.4" text-anchor="middle" fill="#111" stroke="#111" stroke-width="0.2">spherocone</text>
<text x="62.4" y="273.7" font-size="15.4" text-anchor="middle" fill="#111" stroke="#111" stroke-width="0.2">platycone</text>
<text x="408.8" y="231.9" font-size="15.4" text-anchor="middle" fill="#111" stroke="#111" stroke-width="0.2">discocone</text>
<text x="239.9" y="417.6" font-size="15.4" text-anchor="middle" fill="#111" stroke="#111" stroke-width="0.2">oxycone</text>
<text x="162.6" y="115.4" font-size="15.35" font-weight="bold" text-anchor="middle" fill="#111" stroke="#111" stroke-width="0.2">plankton</text>
<text x="161.9" y="143.6" font-size="14" text-anchor="middle" fill="#111" stroke="#111" stroke-width="0.2">drifters</text>
<text x="162.3" y="165.2" font-size="14.5" text-anchor="middle" fill="#111" stroke="#111" stroke-width="0.2">?</text>
<text x="306" y="114.2" font-size="15.35" font-weight="bold" text-anchor="middle" fill="#111" stroke="#111" stroke-width="0.2">plankton</text>
<text x="305.5" y="134.5" font-size="14.2" text-anchor="middle" fill="#111" stroke="#111" stroke-width="0.2">vertical</text>
<text x="305.9" y="149.5" font-size="14.1" text-anchor="middle" fill="#111" stroke="#111" stroke-width="0.2">migrants</text>
<text x="305.9" y="173" font-size="14.5" text-anchor="middle" fill="#111" stroke="#111" stroke-width="0.2">?</text>
<text x="239.6" y="237.4" font-size="15.4" font-weight="bold" text-anchor="middle" fill="#111" stroke="#111" stroke-width="0.2">nekton</text>
<text x="239.2" y="260.7" font-size="14.5" text-anchor="middle" fill="#111" stroke="#111" stroke-width="0.2">?</text>
<text x="229.8" y="103.3" font-size="13" font-weight="bold" text-anchor="middle" fill="#111" stroke="#111" stroke-width="0.2">d</text>
<text x="229.8" y="115.5" font-size="13" font-weight="bold" text-anchor="middle" fill="#111" stroke="#111" stroke-width="0.2">e</text>
<text x="229.8" y="126.7" font-size="13" font-weight="bold" text-anchor="middle" fill="#111" stroke="#111" stroke-width="0.2">m</text>
<text x="229.8" y="138.6" font-size="13" font-weight="bold" text-anchor="middle" fill="#111" stroke="#111" stroke-width="0.2">e</text>
<text x="229.8" y="150.9" font-size="13" font-weight="bold" text-anchor="middle" fill="#111" stroke="#111" stroke-width="0.2">r</text>
<text x="229.8" y="161.5" font-size="13" font-weight="bold" text-anchor="middle" fill="#111" stroke="#111" stroke-width="0.2">s</text>
<text x="229.8" y="172.9" font-size="13" font-weight="bold" text-anchor="middle" fill="#111" stroke="#111" stroke-width="0.2">a</text>
<text x="229.8" y="187.9" font-size="13" font-weight="bold" text-anchor="middle" fill="#111" stroke="#111" stroke-width="0.2">l</text>
<text x="662.8" y="23.1" font-size="16.2" text-anchor="middle" fill="#111" stroke="#111" stroke-width="0.2">torticone</text>
<text x="918.6" y="23.7" font-size="16.2" text-anchor="middle" fill="#111" stroke="#111" stroke-width="0.2">vermicone</text>
<text x="918.6" y="175.5" font-size="16.2" text-anchor="start" fill="#111" stroke="#111" stroke-width="0.2">hamiticone</text>
<text x="529.3" y="187.7" font-size="16.2" text-anchor="middle" fill="#111" stroke="#111" stroke-width="0.2">orthocone</text>
<text x="935.5" y="304.6" font-size="16.2" text-anchor="middle" fill="#111" stroke="#111" stroke-width="0.2">ancylocone</text>
<text x="573.2" y="331.5" font-size="16.2" text-anchor="middle" fill="#111" stroke="#111" stroke-width="0.2">cyrthocone</text>
<text x="682.6" y="393.7" font-size="16.2" text-anchor="middle" fill="#111" stroke="#111" stroke-width="0.2">gyrocone</text>
<text x="596.1" y="118" font-size="16.1" font-weight="bold" text-anchor="middle" fill="#111" stroke="#111" stroke-width="0.2">plankton</text>
<text x="565.7" y="135.6" font-size="14.8" text-anchor="middle" fill="#111" stroke="#111" stroke-width="0.2">and/or demersal</text>
<text x="664.5" y="161.7" font-size="14.3" text-anchor="middle" fill="#111" stroke="#111" stroke-width="0.2">vertical</text>
<text x="649" y="180.5" font-size="14.3" text-anchor="middle" fill="#111" stroke="#111" stroke-width="0.2">‘escapist’</text>
<text x="637.3" y="200.8" font-size="14.5" text-anchor="middle" fill="#111" stroke="#111" stroke-width="0.2">?</text>
<text x="747" y="145.6" font-size="16.2" font-weight="bold" text-anchor="middle" fill="#111" stroke="#111" stroke-width="0.2">plankton</text>
<text x="756.8" y="167.7" font-size="14.8" text-anchor="middle" fill="#111" stroke="#111" stroke-width="0.2">vertical</text>
<text x="756.5" y="183.7" font-size="14.9" text-anchor="middle" fill="#111" stroke="#111" stroke-width="0.2">migrants</text>
<text x="757.8" y="211" font-size="14.5" text-anchor="middle" fill="#111" stroke="#111" stroke-width="0.2">?</text>
<text x="839.9" y="61.6" font-size="14.5" text-anchor="middle" fill="#111" stroke="#111" stroke-width="0.2">?</text>
<text x="840.5" y="80.6" font-size="16.2" font-weight="bold" text-anchor="middle" fill="#111" stroke="#111" stroke-width="0.2">plankton</text>
<text x="840.6" y="97.2" font-size="14.7" text-anchor="middle" fill="#111" stroke="#111" stroke-width="0.2">drifters</text>
<text x="676.5" y="264.9" font-size="16.5" font-weight="bold" text-anchor="middle" fill="#111" stroke="#111" stroke-width="0.2">quasiplankton</text>
<text x="705.5" y="294.3" font-size="16.4" font-weight="bold" text-anchor="middle" fill="#111" stroke="#111" stroke-width="0.2">pseudoplankton</text>
<text x="721.3" y="317.7" font-size="14.5" text-anchor="middle" fill="#111" stroke="#111" stroke-width="0.2">?</text>
</svg>
</body></html>
